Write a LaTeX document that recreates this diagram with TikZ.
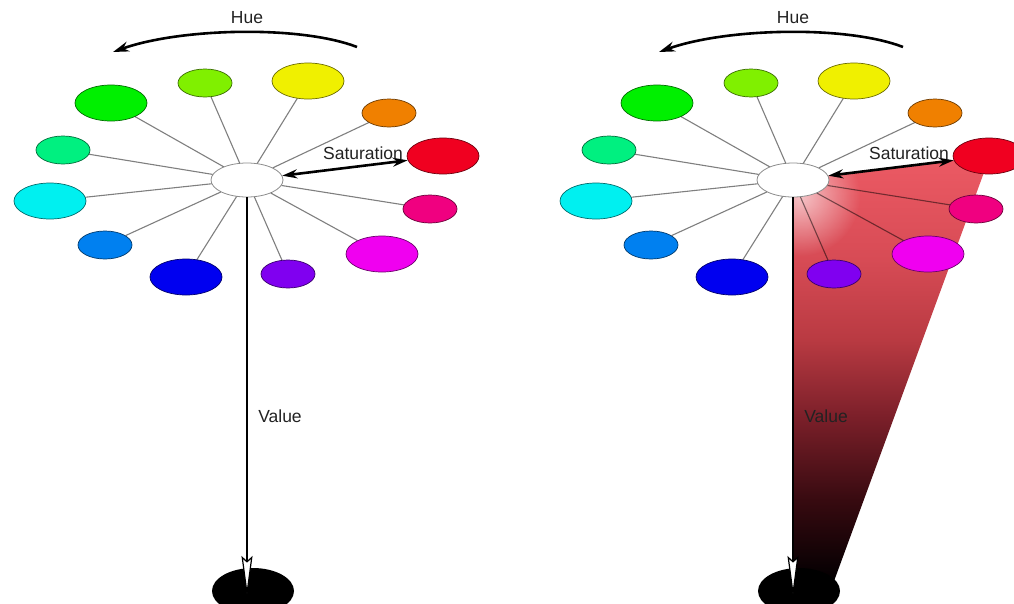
\documentclass[tikz,border=0pt]{standalone}
\usepackage{fontspec}
\setmainfont{Liberation Sans}
\usetikzlibrary{shapes.geometric,arrows.meta,fadings}
\definecolor{cR}{RGB}{240,0,32}
\definecolor{cO}{RGB}{240,128,0}
\definecolor{cY}{RGB}{240,240,0}
\definecolor{cYG}{RGB}{128,240,0}
\definecolor{cG}{RGB}{0,240,0}
\definecolor{cSG}{RGB}{0,240,128}
\definecolor{cC}{RGB}{0,240,240}
\definecolor{cAz}{RGB}{0,128,240}
\definecolor{cB}{RGB}{0,0,240}
\definecolor{cV}{RGB}{128,0,240}
\definecolor{cM}{RGB}{240,0,240}
\definecolor{cRo}{RGB}{240,0,128}
\definecolor{txt}{RGB}{34,34,34}
\definecolor{s0}{RGB}{6,0,2}
\definecolor{s1}{RGB}{55,10,16}
\definecolor{s2}{RGB}{125,32,42}
\definecolor{s3}{RGB}{185,58,66}
\definecolor{s4}{RGB}{215,75,85}
\definecolor{s5}{RGB}{236,90,100}
\pgfdeclareverticalshading{valshade}{100bp}{color(0bp)=(black); color(25bp)=(black); color(27bp)=(s0); color(35.5bp)=(s1); color(45.3bp)=(s2); color(53.9bp)=(s3); color(63.1bp)=(s4); color(75bp)=(s5); color(100bp)=(s5)}
\tikzfading[name=glowfade, inner color=transparent!0, outer color=transparent!100]
\tikzset{
  blob/.style={ellipse, inner sep=0pt, draw=#1!45!black, fill=#1, line width=0.7pt},
  bigblob/.style={minimum width=72pt, minimum height=36pt},
  smallblob/.style={minimum width=54pt, minimum height=28pt},
  hub/.style={ellipse, inner sep=0pt, draw=black!45, fill=white, line width=0.8pt, minimum width=72pt, minimum height=34pt},
  spoke/.style={draw=black, draw opacity=0.5, line width=1.1pt},
  label/.style={text=txt, font=\fontsize{17.5}{20}\selectfont, anchor=base, inner sep=0pt},
  thick arrow/.style={line width=2.6pt, black},
  basenode/.style={ellipse, inner sep=0pt, fill=black, minimum width=82pt, minimum height=46pt},
}
\newcommand\drawwheel{%
  \node[basenode] (base) at (253,591) {};
  \node[hub] (c) at (247,180) {};
  \node[blob=cR, bigblob] (r) at (443,156) {};
  \node[blob=cO, smallblob] (o) at (389,113) {};
  \node[blob=cY, bigblob] (y) at (308,81) {};
  \node[blob=cYG, smallblob] (yg) at (205,83) {};
  \node[blob=cG, bigblob] (g) at (111,103) {};
  \node[blob=cSG, smallblob] (sg) at (63,150) {};
  \node[blob=cC, bigblob] (cy) at (50,201) {};
  \node[blob=cAz, smallblob] (az) at (105,245) {};
  \node[blob=cB, bigblob] (bl) at (186,277) {};
  \node[blob=cV, smallblob] (vi) at (288,274) {};
  \node[blob=cM, bigblob] (mg) at (382,254) {};
  \node[blob=cRo, smallblob] (ro) at (430,209) {};
  \foreach \n in {o,y,yg,g,sg,cy,az,bl,vi,mg,ro} \draw[spoke] (c) -- (\n);
  \coordinate (vend) at (247,598);
  \draw[thick arrow, line width=2.9pt, -{Stealth[length=42pt, width=11pt, inset=5pt, fill=white, line width=1.2pt]}] (c) -- (vend);
  \draw[thick arrow, {Stealth[length=15pt, width=9pt]}-{Stealth[length=15pt, width=9pt]}] (c) -- (r);
  \coordinate (hs) at (357,47);
  \coordinate (he) at (113,52);
  \draw[thick arrow, -{Stealth[length=16pt, width=10pt]}] (hs) .. controls (300,25) and (180,28) .. (he);
  \node[label] (hue) at (247,23) {Hue};
  \node[label] (sat) at (363,159) {Saturation};
  \node[label] (val) at (280,422) {Value};
}
\begin{document}
\begin{tikzpicture}[x=1pt,y=-1pt]
  \useasboundingbox (0,0) rectangle (1014,603);
  \begin{scope}[name prefix=L-]
    \drawwheel
  \end{scope}
  \begin{scope}[shift={(546,0)}, name prefix=R-]
    \begin{scope}
      \clip (247,180) -- (444,156) -- (284,592) -- (247,592) -- cycle;
      \shade[shading=valshade] (240,156) rectangle (450,592);
      \fill[white, fill opacity=0.65, path fading=glowfade] (254,196) circle (60);
    \end{scope}
    \drawwheel
  \end{scope}
\end{tikzpicture}
\end{document}
